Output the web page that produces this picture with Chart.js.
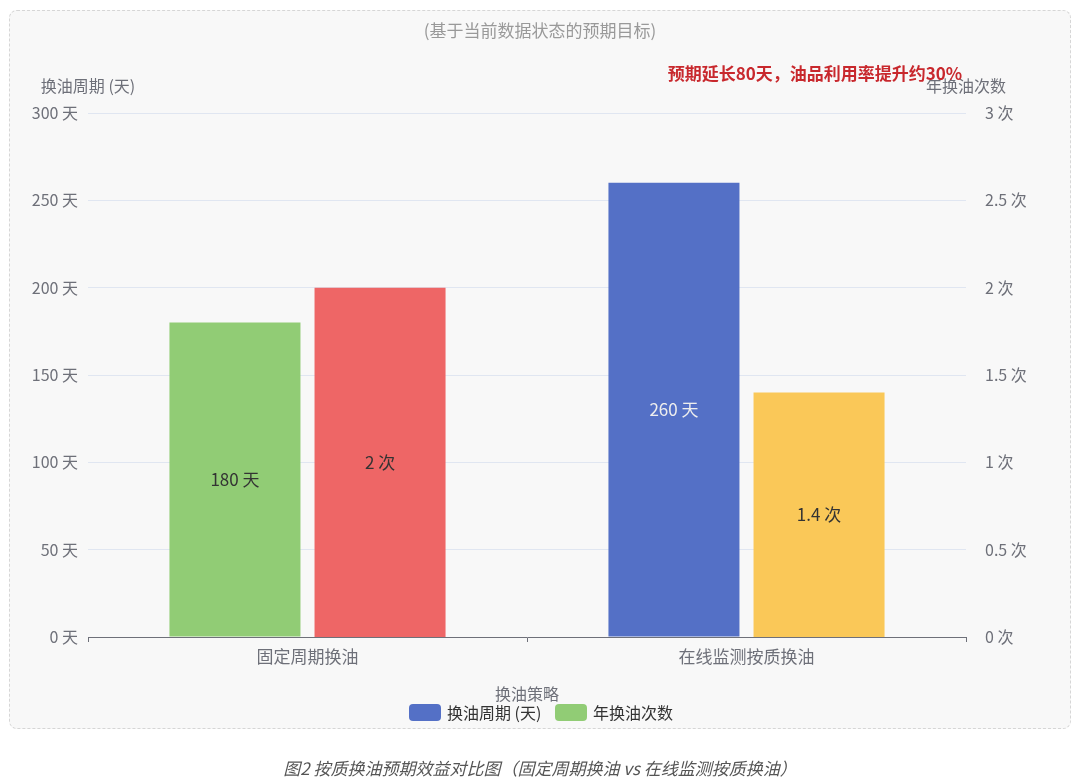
<!DOCTYPE html>
<html>
<head>
<meta charset="utf-8">
<script src="https://cdn.jsdelivr.net/npm/chart.js@4/dist/chart.umd.min.js"></script>
<style>
  html, body { margin: 0; padding: 0; background: #ffffff; width: 1080px; height: 783px; overflow: hidden; }
  #box { position: absolute; left: 9px; top: 10px; width: 1060px; height: 717px; border: 1px dashed #d6d6d6; border-radius: 8px; background: #f8f8f8; }
  #c { position: absolute; left: 0; top: 0; }
  #cap { position: absolute; left: 0; top: 755px; width: 1080px; text-align: center; font-family: "Noto Sans CJK SC", "Noto Sans", sans-serif; font-style: italic; font-size: 17px; color: #555; }
</style>
</head>
<body>
<div id="box"></div>
<canvas id="c" width="1080" height="783"></canvas>
<div id="cap">图2 按质换油预期效益对比图（固定周期换油 vs 在线监测按质换油）</div>
<script>
const categories = ['固定周期换油', '在线监测按质换油'];
const cycleDays = [180, 260];
const changesPerYear = [2, 1.4];
const leftTicks = [0, 50, 100, 150, 200, 250, 300];
const rightTicks = [0, 0.5, 1, 1.5, 2, 2.5, 3];

const FONT = '"Noto Sans CJK SC", "Noto Sans", sans-serif';
const cycleColors = ['#91cc75', '#5470c6'];
const countColors = ['#ee6666', '#fac858'];
const cycleLabelColors = ['#333333', '#eeeeee'];
const countLabelColors = ['#333333', '#333333'];

const overlay = {
  id: 'overlay',
  afterDatasetsDraw(chart) {
    const ctx = chart.ctx;
    ctx.save();
    ctx.textAlign = 'center';
    ctx.textBaseline = 'middle';
    // bar labels
    ctx.font = '17px ' + FONT;
    const m0 = chart.getDatasetMeta(0), m1 = chart.getDatasetMeta(1);
    m0.data.forEach((el, i) => {
      ctx.fillStyle = cycleLabelColors[i];
      ctx.fillText(cycleDays[i] + ' 天', el.x, (el.y + el.base) / 2);
    });
    m1.data.forEach((el, i) => {
      ctx.fillStyle = countLabelColors[i];
      ctx.fillText(changesPerYear[i] + ' 次', el.x, (el.y + el.base) / 2);
    });
    // title
    ctx.font = '17px ' + FONT;
    ctx.fillStyle = '#999999';
    ctx.fillText('(基于当前数据状态的预期目标)', 540, 31);
    // axis names
    ctx.font = '16px ' + FONT;
    ctx.fillStyle = '#6e7079';
    ctx.fillText('换油周期 (天)', 88, 86);
    ctx.fillText('年换油次数', 966, 86);
    ctx.fillText('换油策略', 527, 694);
    // annotation
    ctx.font = 'bold 17px ' + FONT;
    ctx.fillStyle = '#c8282d';
    ctx.fillText('预期延长80天，油品利用率提升约30%', 815, 74);
    // legend
    const items = [['换油周期 (天)', '#5470c6', 409], ['年换油次数', '#91cc75', 555]];
    ctx.font = '16px ' + FONT;
    ctx.textAlign = 'left';
    items.forEach(([t, c, x]) => {
      ctx.fillStyle = c;
      ctx.beginPath();
      ctx.roundRect(x, 704, 32, 17, 4);
      ctx.fill();
      ctx.fillStyle = '#333333';
      ctx.fillText(t, x + 38, 712.5);
    });
    ctx.restore();
  }
};

new Chart(document.getElementById('c'), {
  type: 'bar',
  data: {
    labels: categories,
    datasets: [
      { label: '换油周期 (天)', data: cycleDays, backgroundColor: cycleColors, yAxisID: 'y', categoryPercentage: 0.661, barPercentage: 0.903 },
      { label: '年换油次数', data: changesPerYear, backgroundColor: countColors, yAxisID: 'y1', categoryPercentage: 0.661, barPercentage: 0.903 }
    ]
  },
  options: {
    responsive: false,
    animation: false,
    layout: { padding: { left: 0, right: 0, top: 113, bottom: 0 } },
    plugins: { legend: { display: false }, tooltip: { enabled: false } },
    scales: {
      x: {
        offset: true,
        grid: { offset: true, drawOnChartArea: false, drawTicks: true, tickLength: 5, color: '#6e7079' },
        border: { display: true, color: '#6e7079', width: 1 },
        ticks: { color: '#6e7079', font: { size: 17, family: FONT }, padding: 4 },
        afterFit(s) { s.height = 146; }
      },
      y: {
        position: 'left',
        min: 0, max: 300,
        afterBuildTicks(s) { s.ticks = leftTicks.map(v => ({ value: v })); },
        grid: { color: '#e0e6f1', drawTicks: false },
        border: { display: false },
        ticks: { color: '#6e7079', font: { size: 16, family: FONT }, padding: 10, callback: v => v + ' 天' },
        afterFit(s) { s.width = 88; }
      },
      y1: {
        position: 'right',
        min: 0, max: 3,
        afterBuildTicks(s) { s.ticks = rightTicks.map(v => ({ value: v })); },
        grid: { display: false, drawOnChartArea: false },
        border: { display: false },
        ticks: { color: '#6e7079', font: { size: 16, family: FONT }, padding: 11, callback: v => v + ' 次' },
        afterFit(s) { s.width = 114; }
      }
    }
  },
  plugins: [overlay]
});
</script>
</body>
</html>
